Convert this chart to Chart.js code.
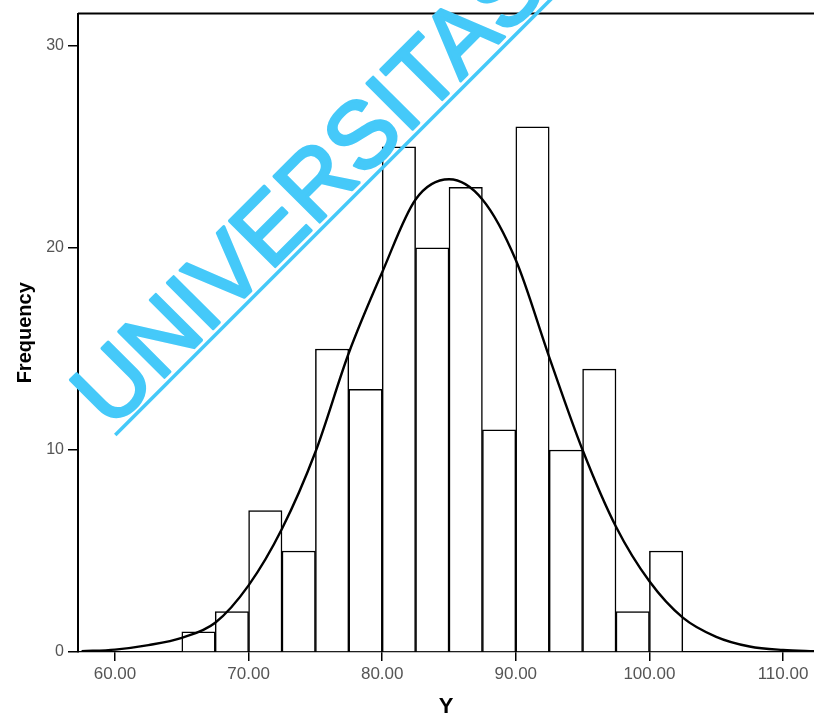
<!DOCTYPE html>
<html>
<head>
<meta charset="utf-8">
<script src="https://cdn.jsdelivr.net/npm/chart.js@4.4.1/dist/chart.umd.min.js"></script>
<style>
  html, body { margin: 0; padding: 0; background: #fff; }
  #wrap { width: 814px; height: 720px; position: relative; }
</style>
</head>
<body>
<div id="wrap"><canvas id="histo"></canvas></div>
<script>
// histogram bins (midpoints, width 2.5) and counts
const binMids = [66.25, 68.75, 71.25, 73.75, 76.25, 78.75, 81.25, 83.75, 86.25, 88.75, 91.25, 93.75, 96.25, 98.75, 101.25];
const frequencies = [1, 2, 7, 5, 15, 13, 25, 20, 23, 11, 26, 10, 14, 2, 5];

// normal curve
const curveX = [57.5, 60, 62.5, 65, 67.5, 70, 72.5, 75, 77.5, 80, 82.5, 85, 87.5, 90, 92.5, 95, 97.5, 100, 102.5, 105, 107.5, 110, 112.5];
const curveY = [0.04, 0.12, 0.34, 0.7, 1.45, 3.3, 6.1, 9.9, 14.8, 18.8, 22.4, 23.4, 22.4, 19.4, 14.6, 10.0, 6.2, 3.5, 1.7, 0.75, 0.27, 0.1, 0.04];

const xTicks = [60, 70, 80, 90, 100, 110];
const yTicks = [0, 10, 20, 30];

const watermarkText = 'UNIVERSITAS';

// top frame line + watermark on top of everything
const framePlugin = {
    id: 'frame',
    afterDraw(chart) {
        const ctx = chart.ctx;
        const a = chart.chartArea;
        ctx.save();
        ctx.strokeStyle = '#000';
        ctx.lineWidth = 2;
        ctx.beginPath();
        ctx.moveTo(a.left, a.top);
        ctx.lineTo(a.right, a.top);
        ctx.stroke();
        ctx.restore();

        // watermark
        ctx.save();
        ctx.fillStyle = '#45C9F9';
        ctx.strokeStyle = '#45C9F9';
        ctx.translate(111, 430.7);
        ctx.rotate(-Math.PI / 4);
        ctx.font = '94px "Liberation Sans", Arial, sans-serif';
        ctx.textBaseline = 'alphabetic';
        ctx.lineJoin = 'round';
        ctx.lineWidth = 3;
        ctx.fillText(watermarkText, 0, 0);
        ctx.strokeText(watermarkText, 0, 0);
        ctx.lineWidth = 3.5;
        ctx.beginPath();
        ctx.moveTo(0, 6);
        ctx.lineTo(900, 6);
        ctx.stroke();
        ctx.restore();
    }
};

const ctx = document.getElementById('histo').getContext('2d');
new Chart(ctx, {
    type: 'bar',
    data: {
        datasets: [
            {
                type: 'line',
                data: curveX.map((x, i) => ({ x: x, y: curveY[i] })),
                borderColor: '#000',
                borderWidth: 2.4,
                pointRadius: 0,
                cubicInterpolationMode: 'monotone',
                fill: false,
                order: 0
            },
            {
                type: 'bar',
                data: binMids.map((x, i) => ({ x: x, y: frequencies[i] })),
                backgroundColor: '#fff',
                borderColor: '#000',
                borderWidth: 1.5,
                barPercentage: 1,
                categoryPercentage: 1,
                grouped: false,
                order: 1
            }
        ]
    },
    options: {
        responsive: true,
        maintainAspectRatio: false,
        animation: false,
        layout: { padding: { top: 7, right: 0, left: 0, bottom: 0 } },
        plugins: {
            legend: { display: false },
            tooltip: { enabled: false }
        },
        scales: {
            x: {
                type: 'linear',
                min: 57.23,
                max: 112.32,
                offset: false,
                afterBuildTicks: scale => { scale.ticks = xTicks.map(v => ({ value: v })); },
                afterFit: scale => { scale.height = 68; },
                grid: { offset: false, drawOnChartArea: false, drawTicks: true, tickLength: 9, color: '#000', lineWidth: 1.5 },
                border: { display: true, color: '#000', width: 1.2 },
                ticks: {
                    padding: 3,
                    maxRotation: 0,
                    color: '#555',
                    font: { family: '"Liberation Sans", Arial, sans-serif', size: 17 },
                    callback: v => v.toFixed(2)
                },
                title: {
                    display: true,
                    text: 'Y',
                    color: '#000',
                    font: { family: '"Liberation Sans", Arial, sans-serif', size: 22, weight: 'bold' },
                    padding: { top: 7, bottom: 0 }
                }
            },
            y: {
                min: 0,
                max: 31.6,
                afterBuildTicks: scale => { scale.ticks = yTicks.map(v => ({ value: v })); },
                afterFit: scale => { scale.width = 78; },
                grid: { drawOnChartArea: false, drawTicks: true, tickLength: 10, color: '#000', lineWidth: 1.5 },
                border: { display: true, color: '#000', width: 2 },
                ticks: {
                    padding: 4,
                    color: '#555',
                    font: { family: '"Liberation Sans", Arial, sans-serif', size: 16 }
                },
                title: {
                    display: true,
                    text: 'Frequency',
                    color: '#000',
                    font: { family: '"Liberation Sans", Arial, sans-serif', size: 20, weight: 'bold' },
                    padding: { top: 13, bottom: 0 }
                }
            }
        }
    },
    plugins: [framePlugin]
});
</script>
</body>
</html>
